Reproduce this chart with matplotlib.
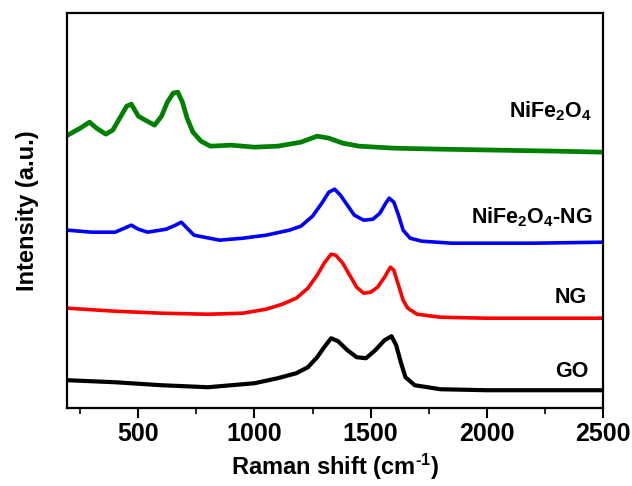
import matplotlib
matplotlib.use('Agg')
import matplotlib.pyplot as plt
from matplotlib.ticker import MultipleLocator

plt.rcParams['font.family'] = 'Liberation Sans'
plt.rcParams['font.weight'] = 'bold'
plt.rcParams['mathtext.fontset'] = 'custom'
plt.rcParams['mathtext.bf'] = 'Liberation Sans:bold'
plt.rcParams['mathtext.rm'] = 'Liberation Sans:bold'
plt.rcParams['mathtext.default'] = 'bf'

# values (intensity in arbitrary, stacked units)
w_nife = [196, 250, 290, 320, 360, 390, 420, 450, 470, 500, 530, 570, 600, 625, 650, 670,
          690, 710, 735, 770, 810, 900, 1000, 1100, 1200, 1270, 1320, 1380, 1450, 1600,
          1800, 2050, 2300, 2500]
i_nife = [273, 280, 286, 280, 274, 278, 290, 302, 304, 292, 288, 283, 292, 306, 315, 316,
          306, 290, 276, 267, 262, 263, 261, 262, 266, 272, 270, 265, 262, 260,
          259, 258, 257, 256]

w_nifeng = [196, 300, 400, 440, 470, 500, 540, 620, 660, 685, 710, 740, 850, 950, 1050, 1150,
            1200, 1250, 1290, 1320, 1345, 1370, 1400, 1430, 1470, 1510, 1540, 1565, 1580,
            1600, 1620, 1640, 1670, 1720, 1850, 2200, 2500]
i_nifeng = [178, 176, 176, 180, 183, 179, 176, 179, 183, 186, 180, 173, 168, 170, 173, 178,
            182, 192, 205, 216, 219, 213, 203, 193, 188, 189, 195, 205, 210,
            206, 193, 178, 170, 167, 165, 165, 166]

w_ng = [196, 400, 600, 800, 950, 1050, 1120, 1180, 1230, 1270, 1300, 1330, 1350, 1380, 1410,
        1440, 1470, 1500, 1530, 1560, 1585, 1600, 1620, 1640, 1660, 1700, 1800, 2000, 2500]
i_ng = [100, 97, 95, 94, 95, 99, 104, 110, 120, 133, 145, 154, 153, 145, 133,
        121, 115, 116, 121, 131, 141, 138, 123, 108, 100, 94, 91, 90, 90]

w_go = [196, 400, 600, 800, 1000, 1100, 1180, 1230, 1270, 1300, 1330, 1360, 1400, 1440, 1480,
        1520, 1560, 1590, 1610, 1630, 1650, 1690, 1800, 2000, 2500]
i_go = [28, 26, 23, 21, 25, 30, 35, 41, 51, 61, 70, 67, 58, 51, 50,
        58, 68, 72, 63, 46, 31, 23, 19, 18, 18]

fig = plt.figure(figsize=(6.32, 4.86), dpi=100)
ax = fig.add_axes([0.106, 0.160, 0.848, 0.813])

ax.plot(w_nife, i_nife, color='#008000', lw=3.4)
ax.plot(w_nifeng, i_nifeng, color='#0000ff', lw=2.6)
ax.plot(w_ng, i_ng, color='#ff0000', lw=2.6)
ax.plot(w_go, i_go, color='black', lw=3.0)

ax.text(2453, 291, r'NiFe$_2$O$_4$', ha='right', va='baseline', fontsize=15.5)
ax.text(2457, 185, r'NiFe$_2$O$_4$-NG', ha='right', va='baseline', fontsize=15.5)
ax.text(2431, 105, 'NG', ha='right', va='baseline', fontsize=15.5)
ax.text(2436, 31, 'GO', ha='right', va='baseline', fontsize=15.5)

ax.set_xlim(193, 2500)
ax.set_ylim(0, 395)
ax.xaxis.set_major_locator(MultipleLocator(500))
ax.xaxis.set_minor_locator(MultipleLocator(250))
ax.tick_params(axis='x', which='major', direction='out', length=7, width=1.5,
               labelsize=18, pad=3)
ax.tick_params(axis='x', which='minor', direction='out', length=4.5, width=1.2)
ax.set_yticks([])
for s in ax.spines.values():
    s.set_linewidth(1.6)

ax.set_xlabel(r'Raman shift (cm$^{\text{-}1}$)', fontsize=17, fontweight='bold', labelpad=4)
ax.set_ylabel('Intensity (a.u.)', fontsize=17, fontweight='bold', labelpad=20)

fig.savefig('out.png', dpi=100)
